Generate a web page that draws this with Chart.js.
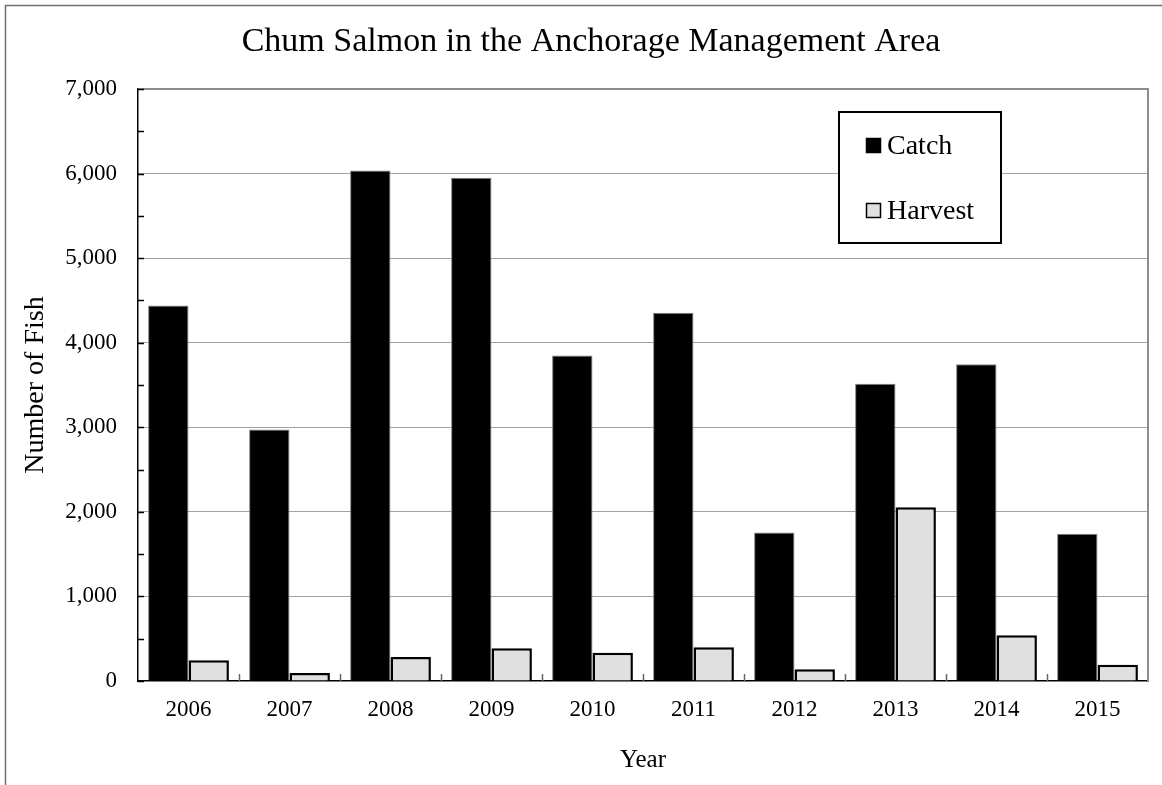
<!DOCTYPE html>
<html>
<head>
<meta charset="utf-8">
<title>Chum Salmon in the Anchorage Management Area</title>
<script src="https://cdn.jsdelivr.net/npm/chart.js@4.4.1/dist/chart.umd.min.js"></script>
<style>
	html, body { margin: 0; padding: 0; background: #fff; }
	canvas { display: block; }
</style>
</head>
<body>
<canvas id="salmonChart" width="1162" height="785"></canvas>
<script>
"use strict";

// data
const years = ["2006", "2007", "2008", "2009", "2010", "2011", "2012", "2013", "2014", "2015"];
const catchFish = [4440, 2975, 6035, 5950, 3850, 4355, 1755, 3515, 3745, 1740];
const harvestFish = [245, 95, 285, 387, 335, 398, 138, 2055, 540, 193];

const yMax = 7000;
const yMajorStep = 1000;
const yMinorStep = 500;

Chart.defaults.font.family = "'Liberation Serif', 'Times New Roman', serif";
Chart.defaults.color = "#000";

// grey outer frame (only top and left are visible)
const framePlugin = {
	id: "frame",
	beforeDraw(chart) {
		let ctx = chart.ctx;
		ctx.save();
		ctx.strokeStyle = "#707070";
		ctx.lineWidth = 1.5;
		ctx.beginPath();
		ctx.moveTo(5.5, chart.height);
		ctx.lineTo(5.5, 5.5);
		ctx.lineTo(chart.width, 5.5);
		ctx.stroke();
		ctx.restore();
	},
};

// plot border on top/right and the small inward tick marks
const plotExtras = {
	id: "plotExtras",
	afterDatasetsDraw(chart) {
		let ctx = chart.ctx;
		let area = chart.chartArea;
		let x = chart.scales.x;
		let y = chart.scales.y;
		ctx.save();
		ctx.strokeStyle = "#8c8c8c";
		ctx.lineWidth = 2;
		ctx.beginPath();
		ctx.moveTo(area.left, area.top);
		ctx.lineTo(area.right, area.top);
		ctx.lineTo(area.right, area.bottom);
		ctx.stroke();

		ctx.strokeStyle = "#000";
		ctx.lineWidth = 1.5;
		for (let t of y.ticks) {
			let py = Math.round(y.getPixelForValue(t.value)) + 0.5;
			ctx.beginPath();
			ctx.moveTo(area.left, py);
			ctx.lineTo(area.left + 6, py);
			ctx.stroke();
		}

		ctx.strokeStyle = "#666";
		for (let i = 0; i < years.length - 1; i++) {
			let px = (x.getPixelForTick(i) + x.getPixelForTick(i + 1)) / 2;
			px = Math.round(px) + 0.5;
			ctx.beginPath();
			ctx.moveTo(px, area.bottom);
			ctx.lineTo(px, area.bottom - 7);
			ctx.stroke();
		}
		ctx.restore();
	},
};

// boxed legend inside the plot area
const boxLegend = {
	id: "boxLegend",
	afterDraw(chart) {
		let ctx = chart.ctx;
		let area = chart.chartArea;
		let left = area.left + 701;
		let top = area.top + 23;
		ctx.save();
		ctx.fillStyle = "#fff";
		ctx.fillRect(left, top, 162, 131);
		ctx.strokeStyle = "#000";
		ctx.lineWidth = 2;
		ctx.strokeRect(left, top, 162, 131);

		ctx.font = "28px 'Liberation Serif', 'Times New Roman', serif";
		ctx.textBaseline = "alphabetic";
		ctx.textAlign = "left";
		let rows = [42, 107];
		chart.data.datasets.forEach((ds, i) => {
			let baseY = top + rows[i];
			ctx.fillStyle = ds.backgroundColor;
			ctx.fillRect(left + 27, baseY - 16, 15, 15);
			ctx.strokeStyle = "#000";
			ctx.lineWidth = 1.5;
			ctx.strokeRect(left + 27.5, baseY - 15.5, 14, 14);
			ctx.fillStyle = "#000";
			ctx.fillText(ds.label, left + 48, baseY);
		});
		ctx.restore();
	},
};

let ctx = document.getElementById("salmonChart").getContext("2d");
new Chart(ctx, {
	type: "bar",
	data: {
		labels: years,
		datasets: [
			{
				label: "Catch",
				data: catchFish,
				backgroundColor: "#000000",
				borderColor: "#7f7f7f",
				borderWidth: 1,
			},
			{
				label: "Harvest",
				data: harvestFish,
				backgroundColor: "#e0e0e0",
				borderColor: "#000000",
				borderWidth: 2.5,
			},
		],
	},
	options: {
		responsive: false,
		animation: false,
		events: [],
		categoryPercentage: 0.8,
		barPercentage: 1.0,
		layout: {
			padding: { left: 34, right: 14, top: 0, bottom: 0 },
		},
		plugins: {
			legend: { display: false },
			tooltip: { enabled: false },
			title: {
				display: true,
				text: "Chum Salmon in the Anchorage Management Area",
				color: "#000",
				font: { size: 34, weight: "normal" },
				padding: { top: 22, bottom: 26.2 },
			},
		},
		scales: {
			x: {
				offset: true,
				grid: { display: false, drawTicks: false },
				border: { color: "#000", width: 1.5 },
				ticks: {
					font: { size: 23 },
					padding: 15,
					maxRotation: 0,
				},
				title: {
					display: true,
					text: "Year",
					font: { size: 25 },
					padding: { top: 0, bottom: 10 },
				},
				afterFit: (scale) => {
					scale.height = 104;
				},
			},
			y: {
				min: 0,
				max: yMax,
				grid: {
					drawTicks: false,
					lineWidth: 1,
					color: (c) => {
						let v = c.tick ? c.tick.value : 0;
						if (v % yMajorStep == 0 && v != 0 && v != yMax) return "#444";
						return "rgba(0,0,0,0)";
					},
				},
				border: { color: "#000", width: 1.5, dash: [1, 1] },
				ticks: {
					stepSize: yMinorStep,
					autoSkip: false,
					font: { size: 23 },
					padding: 21,
					callback: (v) => (v % yMajorStep == 0 ? v.toLocaleString("en-US") : ""),
				},
				title: {
					display: true,
					text: "Number of Fish",
					font: { size: 28 },
					padding: { top: -15.3, bottom: 0 },
				},
				afterFit: (scale) => {
					scale.width = 104;
				},
			},
		},
	},
	plugins: [framePlugin, plotExtras, boxLegend],
});
</script>
</body>
</html>
